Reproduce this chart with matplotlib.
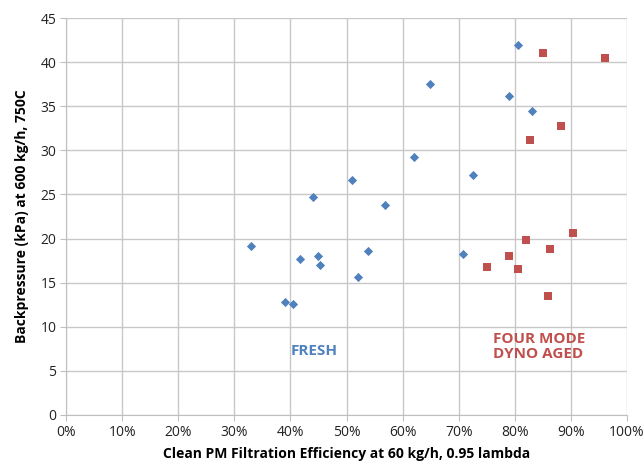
import matplotlib.pyplot as plt
from matplotlib.ticker import PercentFormatter

plt.rcParams['font.family'] = ['Open Sans', 'DejaVu Sans']

# fresh parts: filtration efficiency (%) vs backpressure (kPa)
fresh_eff = [33, 39, 40.5, 41.7, 44, 45, 45.3, 51, 52, 53.8, 56.8, 62, 64.8, 70.8, 72.5, 79, 80.5, 83]
fresh_bp = [19.2, 12.8, 12.6, 17.7, 24.7, 18.0, 17.0, 26.6, 15.6, 18.6, 23.8, 29.3, 37.5, 18.3, 27.2, 36.2, 41.9, 34.5]

# four mode dyno aged parts
aged_eff = [75, 79, 80.6, 82, 82.7, 85, 86, 86.2, 88.3, 90.3, 96]
aged_bp = [16.8, 18.0, 16.5, 19.8, 31.2, 41.0, 13.5, 18.8, 32.8, 20.6, 40.5]

blue = '#4f81bd'
red = '#c0504d'

fig = plt.figure(figsize=(6.44, 4.63), dpi=100)
ax = fig.add_axes([0.1025, 0.1037, 0.8711, 0.8574])

ax.scatter(fresh_eff, fresh_bp, marker='D', s=22, color=blue, zorder=3, linewidths=0)
ax.scatter(aged_eff, aged_bp, marker='s', s=36, color=red, zorder=3, linewidths=0)

ax.set_xlim(0, 100)
ax.set_ylim(0, 45)
ax.set_xticks(range(0, 101, 10))
ax.set_yticks(range(0, 46, 5))
ax.xaxis.set_major_formatter(PercentFormatter(decimals=0))
ax.grid(True, color='#c8c8c8', lw=1)
ax.set_axisbelow(True)
for s in ax.spines.values():
    s.set_visible(False)
ax.spines['left'].set_visible(True)
ax.spines['bottom'].set_visible(True)
ax.spines['left'].set_color('#bfbfbf')
ax.spines['bottom'].set_color('#bfbfbf')
ax.tick_params(length=4, color='#bfbfbf', labelsize=10, labelcolor='#222222', pad=3)

ax.set_xlabel('Clean PM Filtration Efficiency at 60 kg/h, 0.95 lambda',
              fontsize=10, fontweight='bold', labelpad=5)
ax.set_ylabel('Backpressure (kPa) at 600 kg/h, 750C',
              fontsize=10, fontweight='bold', labelpad=8)

ax.text(40.0, 7.3, 'FRESH', color=blue, fontsize=11, fontweight='bold', va='center')
ax.text(76.1, 7.8, 'FOUR MODE\nDYNO AGED', color=red, fontsize=11, fontweight='bold',
        va='center', linespacing=1.1)

fig.savefig('out.png', dpi=100)
